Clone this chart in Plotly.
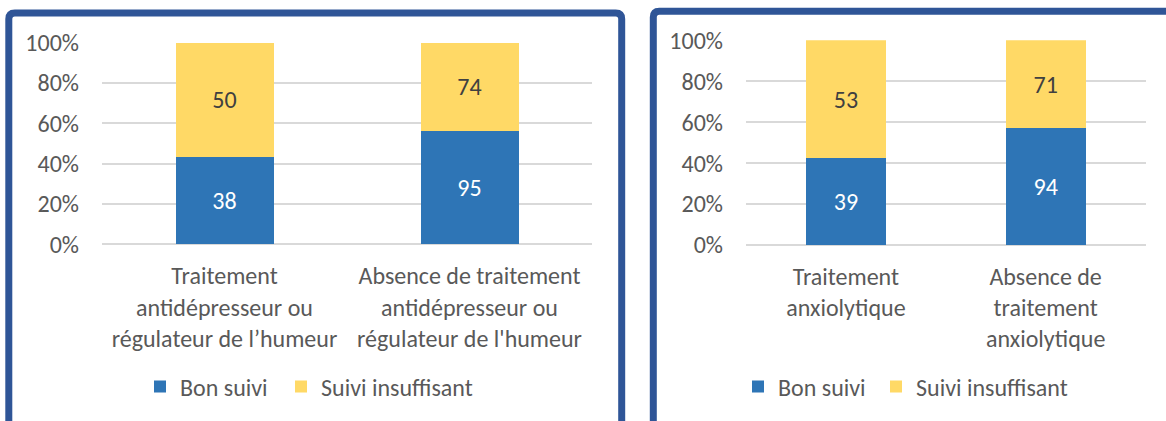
import plotly.graph_objects as go

W, H = 1166, 421

# ---- data ----
left_categories = [
    "Traitement<br>antidépresseur ou<br>régulateur de l’humeur",
    "Absence de traitement<br>antidépresseur ou<br>régulateur de l'humeur",
]
left_bon = [38, 95]
left_insuf = [50, 74]

right_categories = [
    "Traitement<br>anxiolytique",
    "Absence de<br>traitement<br>anxiolytique",
]
right_bon = [39, 94]
right_insuf = [53, 71]

series_names = ["Bon suivi", "Suivi insuffisant"]
y_ticks = [0, 0.2, 0.4, 0.6, 0.8, 1.0]

BLUE = "#2E75B6"
YELLOW = "#FFD966"
BORDER = "#2F5597"
GRID = "#D9D9D9"
TXT = "#595959"
FONT = "Carlito, Lato, sans-serif"
FS = 24


def share(a, b):
    return [x / (x + y) for x, y in zip(a, b)]


def px(x):
    return x / W


def py(y):
    return 1 - y / H


fig = go.Figure()

panels = [
    (left_categories, left_bon, left_insuf, "x", "y", "legend", "legend2"),
    (right_categories, right_bon, right_insuf, "x2", "y2", "legend3", "legend4"),
]
for cats, bon, insuf, xa, ya, lg1, lg2 in panels:
    fig.add_trace(go.Bar(
        x=cats, y=share(bon, insuf), text=[str(v) for v in bon],
        name=series_names[0], marker=dict(color=BLUE, line=dict(width=0)),
        textposition="inside", insidetextanchor="middle", textangle=0,
        textfont=dict(color="white", size=FS, family=FONT),
        xaxis=xa, yaxis=ya, legend=lg1, hoverinfo="skip",
    ))
    fig.add_trace(go.Bar(
        x=cats, y=share(insuf, bon), text=[str(v) for v in insuf],
        name=series_names[1], marker=dict(color=YELLOW, line=dict(width=0)),
        textposition="inside", insidetextanchor="middle", textangle=0,
        textfont=dict(color="#404040", size=FS, family=FONT),
        xaxis=xa, yaxis=ya, legend=lg2, hoverinfo="skip",
    ))

yax = dict(range=[0, 1.0], tickvals=y_ticks, tickformat=".0%", showgrid=True,
           gridcolor=GRID, gridwidth=1.5, zeroline=True, zerolinecolor=GRID,
           zerolinewidth=1.5, showline=False, ticks="", ticklabelstandoff=22,
           automargin=False,
           tickfont=dict(size=FS, color=TXT, family=FONT), fixedrange=True)
xax = dict(showgrid=False, zeroline=False, showline=False, ticks="",
           ticklabelstandoff=15, automargin=False,
           tickfont=dict(size=FS, color=TXT, family=FONT), fixedrange=True)

leg = dict(orientation="h", xanchor="left", yanchor="middle", y=py(387),
           font=dict(size=FS, color=TXT, family=FONT),
           bgcolor="rgba(0,0,0,0)",
           itemclick=False, itemdoubleclick=False)

fig.update_layout(
    width=W, height=H, margin=dict(l=0, r=0, t=0, b=0, autoexpand=False),
    paper_bgcolor="white", plot_bgcolor="white",
    barmode="stack", bargap=0.6,
    font=dict(family=FONT, color=TXT),
    xaxis=dict(domain=[px(102), px(592)], anchor="y", **xax),
    yaxis=dict(domain=[py(244.3), py(42.5)], anchor="x", **yax),
    xaxis2=dict(domain=[px(746), px(1145.5)], anchor="y2", **xax),
    yaxis2=dict(domain=[py(245), py(40.3)], anchor="x2", **yax),
    legend=dict(x=px(140), **leg),
    legend2=dict(x=px(281), **leg),
    legend3=dict(x=px(738), **leg),
    legend4=dict(x=px(876), **leg),
    showlegend=True,
)


def frame(x0, x1, yt, yb, r=6):
    return (f"M {px(x0)},{py(yb)} L {px(x0)},{py(yt + r)} "
            f"Q {px(x0)},{py(yt)} {px(x0 + r)},{py(yt)} "
            f"L {px(x1 - r)},{py(yt)} Q {px(x1)},{py(yt)} {px(x1)},{py(yt + r)} "
            f"L {px(x1)},{py(yb)}")


fig.add_shape(type="path", xref="paper", yref="paper",
              path=frame(8.8, 621.7, 13, 440), line=dict(color=BORDER, width=7))
fig.add_shape(type="path", xref="paper", yref="paper",
              path=frame(653.3, 1200, 11.3, 440), line=dict(color=BORDER, width=7))

fig.write_html("out.html", config={"displayModeBar": False},
               post_script="document.body.style.margin='0px';"
                           "document.body.style.overflow='hidden';")
